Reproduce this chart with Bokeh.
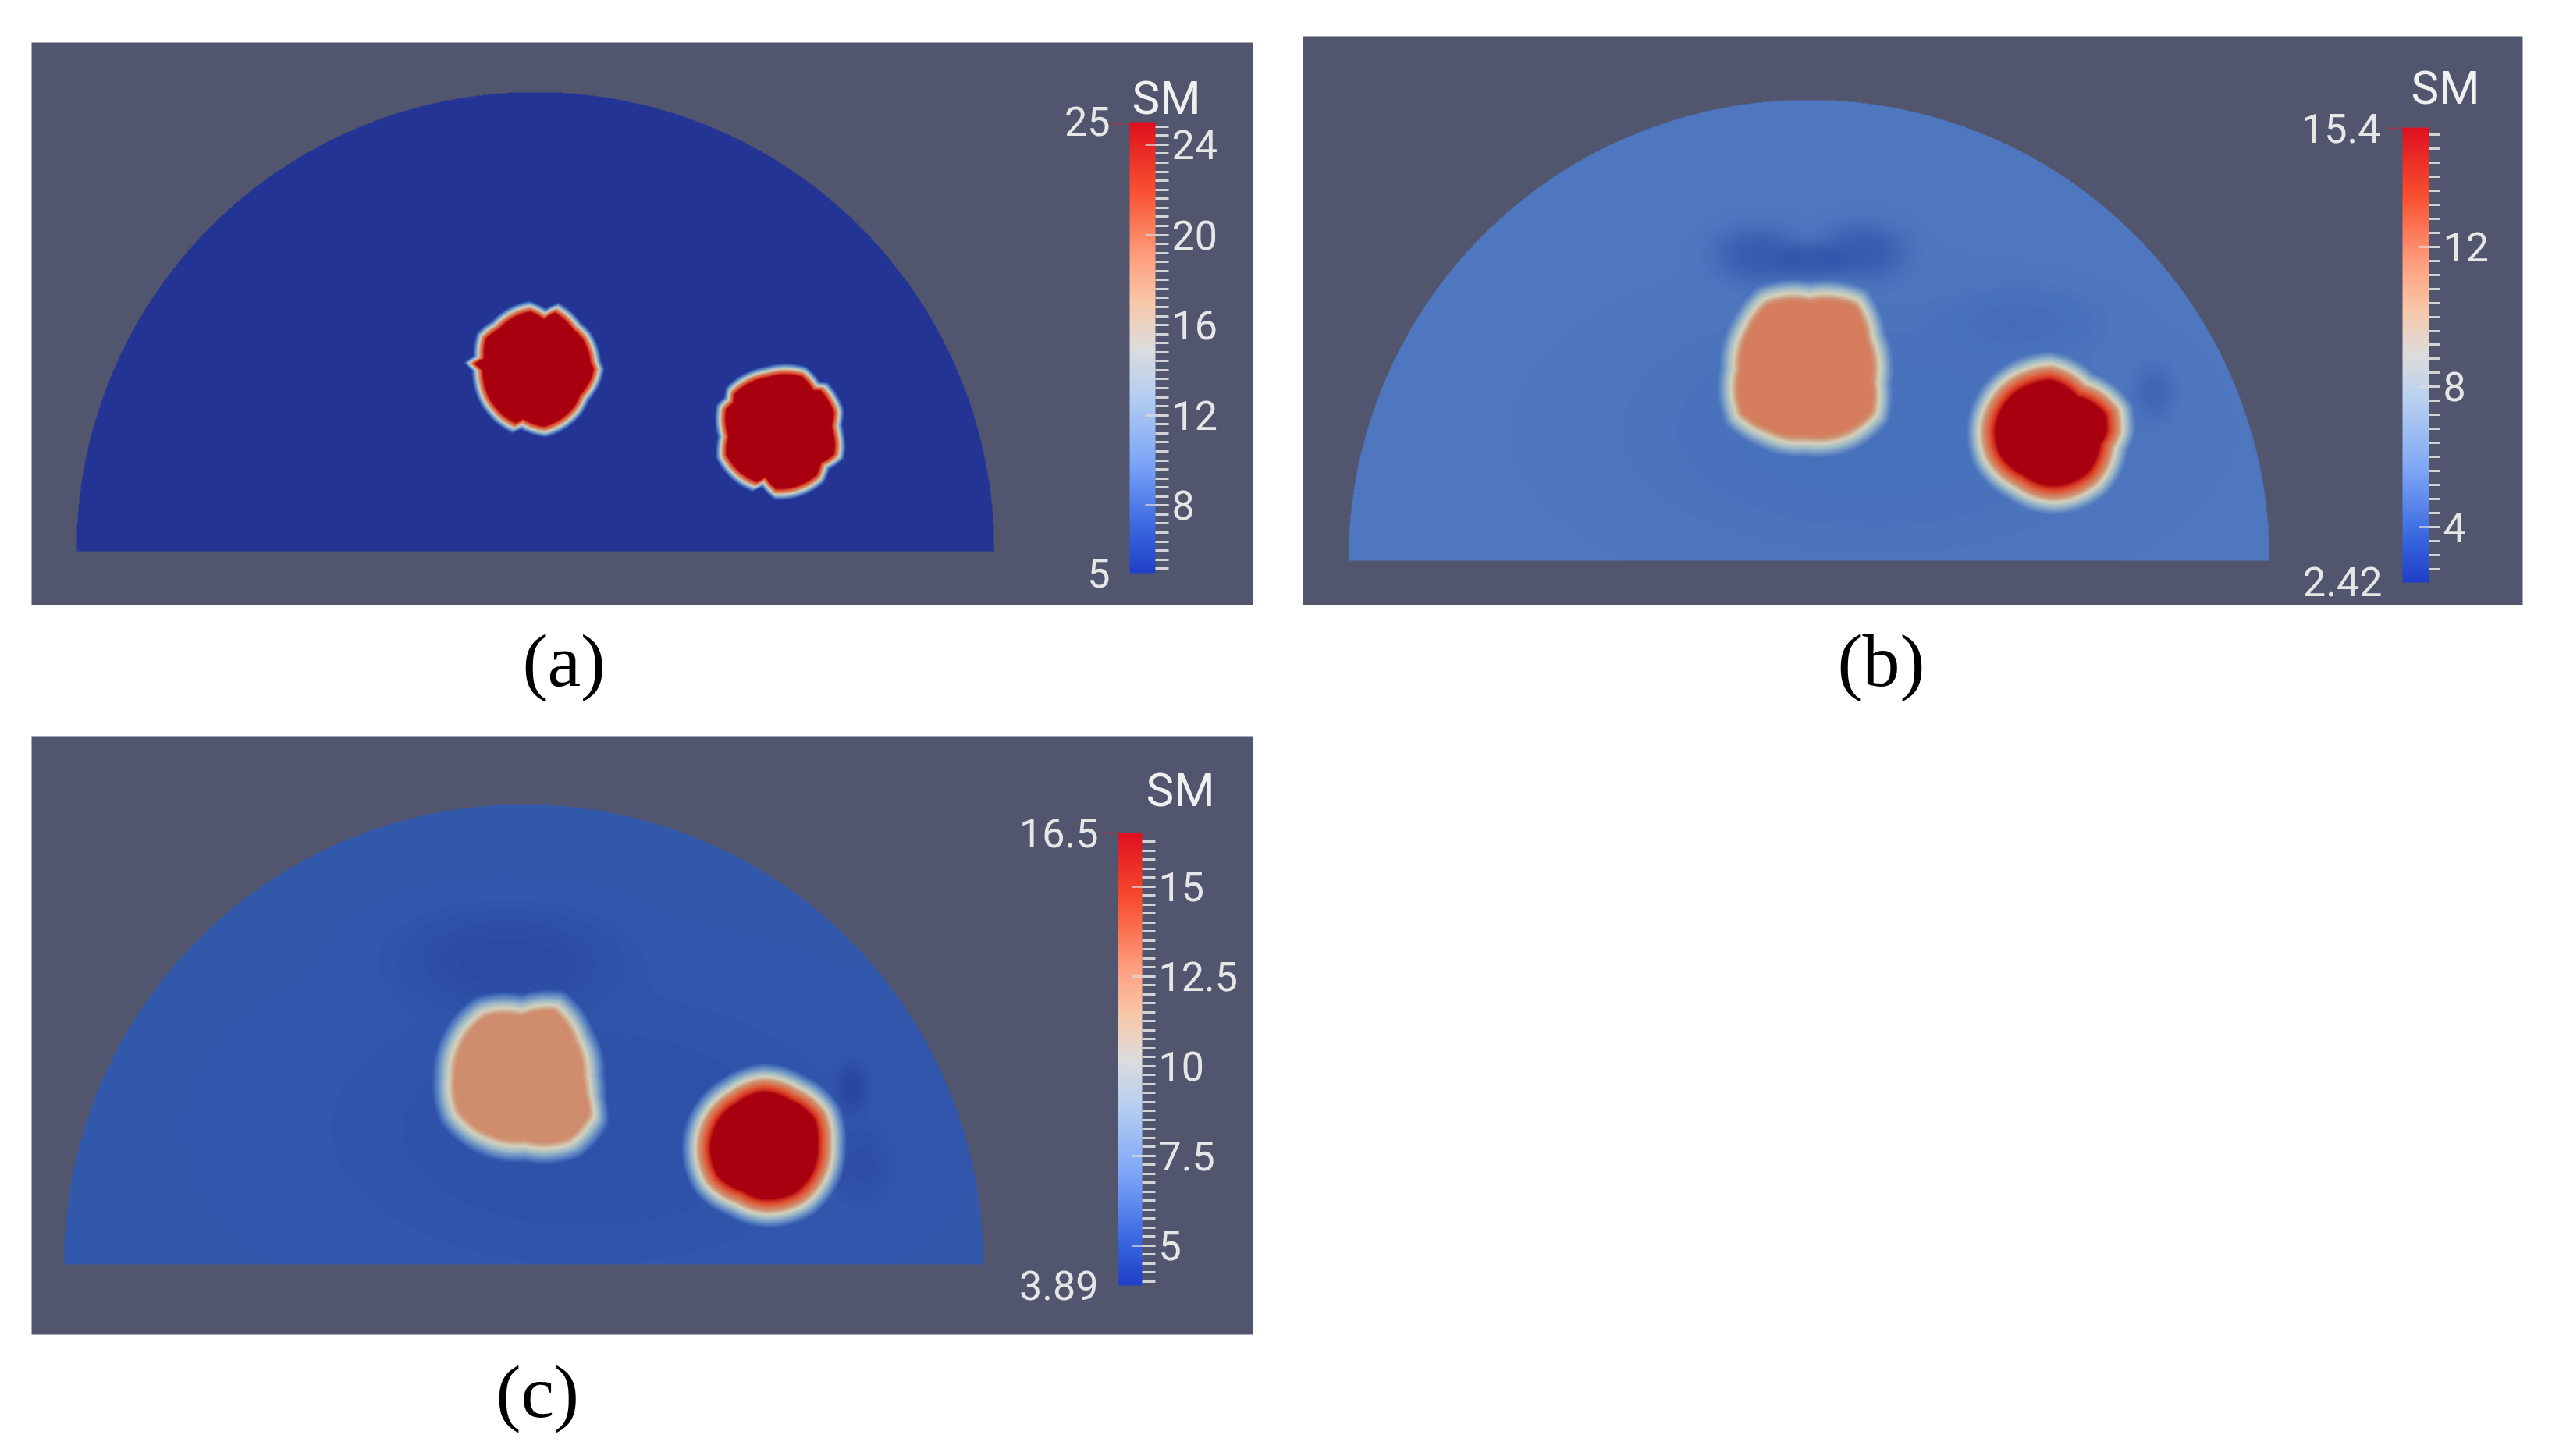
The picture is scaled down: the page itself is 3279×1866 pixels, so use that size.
import numpy as np
from bokeh.embed import file_html
from bokeh.resources import INLINE
from bokeh.layouts import column, row
from bokeh.plotting import figure
from bokeh.models import (ColorBar, FixedTicker, Label, LinearColorMapper, Range1d, Title)

# ---- colours
PANEL = "#51566e"
TEXT = "#e6e6e6"
BAR_STOPS = [(0, "#2040c8"), (.1, "#3a68e0"), (.25, "#80a8f8"), (.4, "#b8d0f0"), (.5, "#dddddd"),
             (.6, "#f8c8a8"), (.7, "#ffa080"), (.85, "#f85030"), (1, "#e01020")]
FIELD_STOPS = [(0, "#233494"), (.07, "#3156ab"), (.15, "#4f78c0"), (.35, "#9cb8c8"), (.5, "#d4d2bc"),
               (.65, "#cf8d6e"), (.72, "#d67d5c"), (.85, "#e05030"), (.93, "#d0301f"), (1, "#a8000f")]

# ---- panel (a)
a_frame = (40, 1605, 54, 775)
a_dome = (685, 706, 588)
a_bg = 0.0
a_blob1_x = [771, 767, 755, 742, 714, 698, 678, 655, 631, 612, 608, 596, 606, 608, 626, 656, 667, 698, 742, 752, 767]
a_blob1_y = [473, 463, 428, 415, 390, 398, 388, 395, 413, 428, 457, 465, 475, 493, 530, 553, 548, 558, 530, 512, 488]
a_blob2_x = [1080, 1078, 1076, 1078, 1058, 1048, 1031, 981, 931, 929, 919, 921, 919, 944, 964, 976, 992, 1053, 1060, 1078]
a_blob2_y = [573, 555, 545, 525, 492, 491, 472, 472, 498, 510, 520, 560, 587, 617, 628, 622, 638, 617, 600, 587]
a_blobs = [(a_blob1_x, a_blob1_y, 1.0, 15), (a_blob2_x, a_blob2_y, 1.0, 15)]
a_shadows = []
a_low, a_high = 5, 25
a_major = [8, 12, 16, 20, 24]
a_minor_step = 0.4
a_bar = (1447, 1480, 156, 734, 17)
a_end_labels = ["25", "5"]
a_end_xy = [(1422, 155), (1422, 734)]
a_sm = (1450, 125)
a_leader = (1414, 1447, 158)
a_tag = ("(a)", 722, 858)

# ---- panel (b)
b_frame = (1669, 3232, 46, 775)
b_dome = (2317, 718, 590)
b_bg = 0.15
b_blob1_x = [2390, 2319, 2252, 2221, 2205, 2212, 2252, 2314, 2377, 2417, 2421, 2413]
b_blob1_y = [373, 363, 370, 410, 473, 543, 570, 583, 573, 540, 493, 427]
b_blob2_x = [2732, 2729, 2680, 2627, 2591, 2546, 2522, 2529, 2573, 2631, 2698, 2723]
b_blob2_y = [555, 520, 480, 453, 460, 490, 543, 593, 637, 657, 630, 577]
b_blobs = [(b_blob1_x, b_blob1_y, 0.72, 30), (b_blob2_x, b_blob2_y, 1.0, 38)]
b_shadows = [(2252, 327, 55, 36, -.06), (2386, 323, 55, 36, -.06), (2320, 335, 40, 24, -.05),
             (2590, 410, 90, 40, -.02), (2760, 503, 25, 35, -.035), (2400, 550, 300, 150, -.015)]
b_low, b_high = 2.42, 15.4
b_major = [4, 8, 12]
b_minor_step = 0.4
b_bar = (3078, 3112, 163, 746, 14)
b_end_labels = ["15.4", "2.42"]
b_end_xy = [(3050, 164), (3052, 745)]
b_sm = (3089, 112)
b_leader = (3058, 3078, 164)
b_tag = ("(b)", 2407, 858)

# ---- panel (c)
c_frame = (40, 1605, 946, 1713)
c_dome = (670, 1623, 589)
c_bg = 0.075
c_blob1_x = [772, 758, 721, 668, 609, 569, 556, 565, 614, 672, 743, 777, 774]
c_blob1_y = [1382, 1325, 1275, 1279, 1283, 1327, 1382, 1440, 1480, 1490, 1483, 1443, 1410]
c_blob2_x = [1081, 1072, 1028, 978, 926, 891, 875, 891, 935, 978, 1041, 1075]
c_blob2_y = [1470, 1420, 1383, 1368, 1387, 1420, 1473, 1530, 1560, 1574, 1557, 1510]
c_blobs = [(c_blob1_x, c_blob1_y, 0.65, 30), (c_blob2_x, c_blob2_y, 1.0, 38)]
c_shadows = [(650, 1232, 135, 62, -.025), (1091, 1397, 20, 30, -.03), (1105, 1497, 35, 45, -.015),
             (750, 1450, 320, 170, -.012)]
c_low, c_high = 3.89, 16.5
c_major = [5, 7.5, 10, 12.5, 15]
c_minor_step = 0.25
c_bar = (1432, 1463, 1070, 1650, 17)
c_end_labels = ["16.5", "3.89"]
c_end_xy = [(1407, 1070), (1407, 1650)]
c_sm = (1468, 1015)
c_leader = (1410, 1432, 1070)
c_tag = ("(c)", 688, 1800)

PAGE_H = 1866
LABEL_FONT = "Roboto"
LABEL_SIZE = "52px"
SM_SIZE = "60px"
TAG_FONT = "Liberation Serif"
TAG_SIZE = "96px"
TAG_HALF_WIDTH = 53
TAG_HALF_HEIGHT = 53


def ramp(stops, n=256):
    pos = [s[0] for s in stops]
    rgb = np.array([[int(s[1][i:i + 2], 16) for i in (1, 3, 5)] for s in stops], float)
    ts = np.linspace(0, 1, n)
    chans = [np.interp(ts, pos, rgb[:, i]) for i in range(3)]
    return ["#%02x%02x%02x" % (int(r), int(g), int(b)) for r, g, b in zip(*chans)]


BAR_PALETTE = ramp(BAR_STOPS)
FIELD_PALETTE = ramp(FIELD_STOPS, 255)


def field(dome, bg, blobs, shadows):
    cx, base, R = dome
    xs = np.arange(cx - R, cx + R + 1, dtype=float)
    ys = np.arange(base, base - R - 1, -1, dtype=float)  # row 0 = bottom of the dome
    X, Y = np.meshgrid(xs, ys)
    t = np.full(X.shape, float(bg))
    for sx0, sy0, ssx, ssy, amp in shadows:
        t += amp * np.exp(-(((X - sx0) / ssx) ** 2 + ((Y - sy0) / ssy) ** 2) ** 1.5)
    for bx, by, peak, width in blobs:
        bx, by = np.array(bx, float), np.array(by, float)
        mx, my = (bx.min() + bx.max()) / 2, (by.min() + by.max()) / 2
        ang = np.arctan2(by - my, bx - mx)
        rad = np.hypot(bx - mx, by - my)
        order = np.argsort(ang)
        th = np.arctan2(Y - my, X - mx)
        edge = np.interp(th, ang[order], rad[order], period=2 * np.pi)
        u = np.clip((edge + 3 - np.hypot(X - mx, Y - my)) / width, 0, 1)
        s = 0.75 * u + 0.25 * u * u * (3 - 2 * u)
        t = t + (peak - t) * s
    img = (1 + np.clip(t, 0, 1) * 254).astype(np.uint8)
    img[(X - cx) ** 2 + (Y - base) ** 2 > R ** 2] = 0
    return img


def panel(frame, dome, bg, blobs, shadows, low, high, major, minor_step, bar, end_labels, end_xy,
          sm, leader, tag, left, right, top, bottom, margin):
    fx0, fx1, fy0, fy1 = frame
    p = figure(frame_width=fx1 - fx0, frame_height=fy1 - fy0,
               x_range=Range1d(fx0, fx1), y_range=Range1d(PAGE_H - fy1, PAGE_H - fy0),
               x_axis_type=None, y_axis_type=None, toolbar_location=None, output_backend="svg",
               min_border_left=left, min_border_right=right, min_border_top=top, min_border_bottom=bottom,
               background_fill_color=PANEL, border_fill_color="white", outline_line_color=None,
               margin=margin)
    p.grid.visible = False

    cx, base, R = dome
    field_map = LinearColorMapper(palette=FIELD_PALETTE, low=1, high=255, low_color="rgba(0,0,0,0)")
    p.image(image=[field(dome, bg, blobs, shadows)], x=cx - R, y=PAGE_H - base, dw=2 * R + 1, dh=R + 1,
            color_mapper=field_map)

    bx0, bx1, by0, by1, tick_out = bar
    bar_map = LinearColorMapper(palette=BAR_PALETTE, low=low, high=high)
    minor = list(np.round(np.arange(major[0] - minor_step * int((major[0] - low) / minor_step), high, minor_step), 3))
    overrides = {m: ("%g" % m) for m in major}
    cb = ColorBar(color_mapper=bar_map, ticker=FixedTicker(ticks=major, minor_ticks=minor),
                  major_label_overrides=overrides,
                  location=(bx0 - fx0, fy1 - by1), width=bx1 - bx0, height=by1 - by0, padding=0, margin=0,
                  background_fill_alpha=0, border_line_color=None, bar_line_color=None,
                  major_tick_line_color="#dcdcdc", major_tick_line_width=3, major_tick_line_alpha=.7,
                  major_tick_in=13, major_tick_out=tick_out,
                  minor_tick_line_color="#d4d4d8", minor_tick_line_width=3,
                  minor_tick_in=0, minor_tick_out=tick_out,
                  label_standoff=4, major_label_text_font=LABEL_FONT, major_label_text_font_size=LABEL_SIZE,
                  major_label_text_color=TEXT)
    p.add_layout(cb, "center")

    for txt, (lx, ly) in zip(end_labels, end_xy):
        p.add_layout(Label(x=lx, y=PAGE_H - ly, text=txt, text_align="right", text_baseline="middle",
                           text_font=LABEL_FONT, text_font_size=LABEL_SIZE, text_color=TEXT))
    p.add_layout(Label(x=sm[0], y=PAGE_H - sm[1], text="SM", text_align="left", text_baseline="middle",
                       text_font=LABEL_FONT, text_font_size=SM_SIZE, text_color="#f0f0f0"))
    p.segment(x0=[leader[0]], x1=[leader[1]], y0=[PAGE_H - leader[2]], y1=[PAGE_H - leader[2]],
              line_color="#8a3a50", line_width=2)
    p.add_layout(Title(text=tag[0], align="left", offset=tag[1] - TAG_HALF_WIDTH - fx0,
                       standoff=tag[2] - TAG_HALF_HEIGHT - fy1,
                       text_font=TAG_FONT, text_font_size=TAG_SIZE, text_font_style="normal", text_color="black"),
                 "below")
    return p


fa = panel(a_frame, a_dome, a_bg, a_blobs, a_shadows, a_low, a_high, a_major, a_minor_step, a_bar,
           a_end_labels, a_end_xy, a_sm, a_leader, a_tag, 40, 35, 46, 141, (8, 0, 0, 0))
fb = panel(b_frame, b_dome, b_bg, b_blobs, b_shadows, b_low, b_high, b_major, b_minor_step, b_bar,
           b_end_labels, b_end_xy, b_sm, b_leader, b_tag, 29, 39, 46, 141, (0, 0, 0, 0))
fc = panel(c_frame, c_dome, c_bg, c_blobs, c_shadows, c_low, c_high, c_major, c_minor_step, c_bar,
           c_end_labels, c_end_xy, c_sm, c_leader, c_tag, 40, 35, 27, 148, (0, 0, 0, 0))

page = column(row(fa, fb), fc)
open("out.html", "w").write(file_html(page, INLINE))
